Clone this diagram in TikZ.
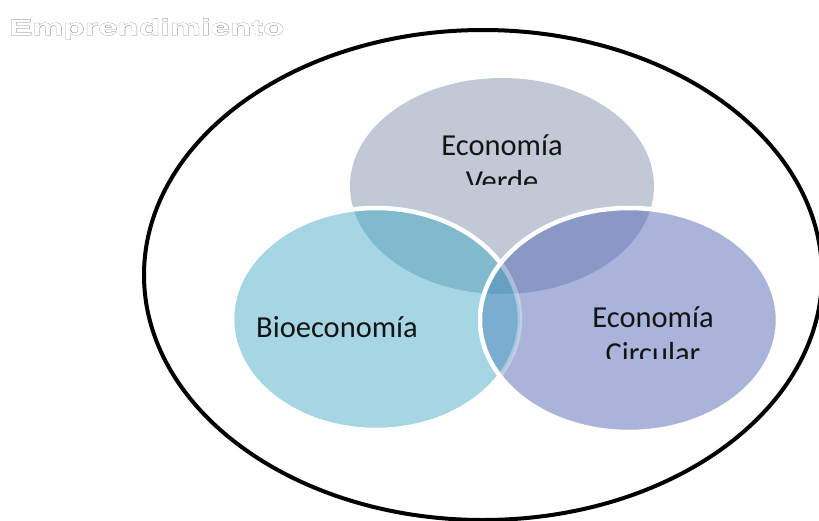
\documentclass[tikz,border=0pt]{standalone}
\usepackage{fontspec}
\setmainfont{Carlito}
\newfontfamily\titlefont[FakeStretch=1.55]{Liberation Sans Bold}
\newfontfamily\titlefontO[FakeStretch=1.55,FakeBold=2.6]{Liberation Sans Bold}
\definecolor{cT}{RGB}{193,201,214}
\definecolor{cL}{RGB}{166,214,227}
\definecolor{cR}{RGB}{170,179,218}
\definecolor{cTL}{RGB}{129,185,205}
\definecolor{cTR}{RGB}{139,152,198}
\definecolor{cLR}{RGB}{121,174,206}
\definecolor{cTLR}{RGB}{104,160,196}
\definecolor{txt}{RGB}{20,20,20}
\definecolor{tgrey}{RGB}{150,150,150}
\tikzset{
  label/.style={font=\fontsize{30.5}{36}\selectfont, text=txt, inner sep=0pt, align=center},
  rim/.style={draw=white, line width=4.5pt},
  titletxt/.style={font=\titlefont\fontsize{22.5}{24}\selectfont, inner sep=0pt, anchor=base west},
  titleout/.style={font=\titlefontO\fontsize{22.5}{24}\selectfont, inner sep=0pt, anchor=base west}
}
\def\shT{(502,186) ellipse [x radius=152pt, y radius=108pt]}
\def\shL{(376,319) ellipse [x radius=144pt, y radius=111pt]}
\def\shR{(629,320) ellipse [x radius=149pt, y radius=112pt]}
\begin{document}
\begin{tikzpicture}[x=1pt,y=-1pt]
\useasboundingbox (0,0) rectangle (819,520);
\clip (0,0) rectangle (819,520);
% outer ellipse
\draw[line width=4pt] (483,275) ellipse [x radius=339pt, y radius=245pt];
% base fills
\fill[cT] \shT;
\fill[cL] \shL;
\fill[cR] \shR;
% overlaps
\begin{scope}\clip \shT; \fill[cTL] \shL; \fill[cTR] \shR; \end{scope}
\begin{scope}\clip \shL; \fill[cLR] \shR; \end{scope}
\begin{scope}\clip \shT; \clip \shL; \fill[cTLR] \shR; \end{scope}
% rims
\begin{scope}[even odd rule]
  \clip (0,0) rectangle (819,520) \shR;
  \draw[rim] \shL;
\end{scope}
\begin{scope}
  \clip \shR;
  \draw[draw=white, draw opacity=0.35, line width=4.5pt] \shL;
\end{scope}
\draw[rim] \shR;
% labels
\begin{scope}
  \clip (0,0) rectangle (819,184);
  \node[label, anchor=base] (verde) at (502,191) {Economía\\Verde};
\end{scope}
\node[label, anchor=base west] (bio) at (256,337) {Bioeconomía};
\begin{scope}
  \clip (0,0) rectangle (819,358);
  \node[label, anchor=base] (circ) at (653,363) {Economía\\Circular};
\end{scope}
% title (grey outline under white letters)
\node[titleout, text=tgrey] (titleo) at (9,35) {Emprendimiento};
\node[titletxt, text=white] (title) at (9,35) {Emprendimiento};
\end{tikzpicture}
\end{document}
